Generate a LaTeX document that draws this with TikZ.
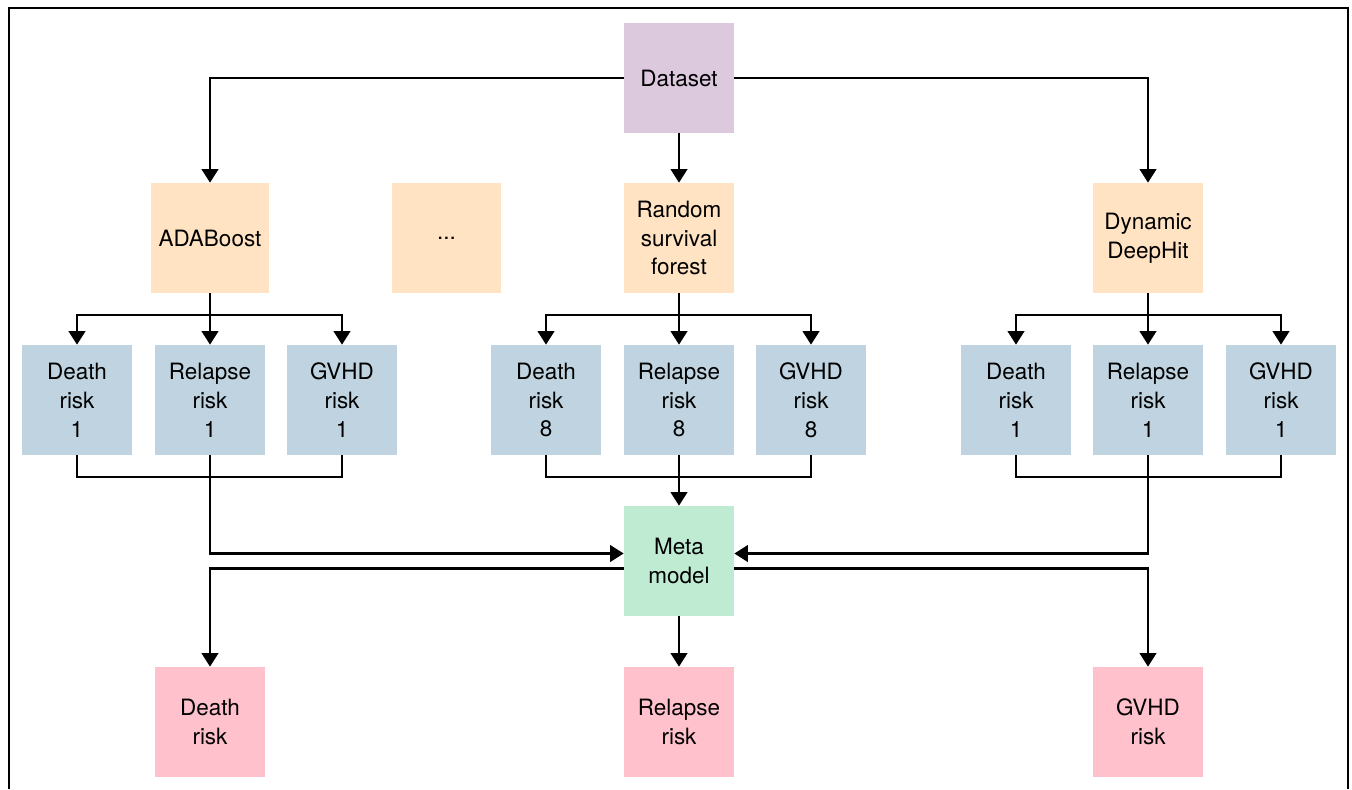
\documentclass[tikz,border=0pt]{standalone}
\usepackage{fontspec}
\setmainfont{TeX Gyre Heros}
\usetikzlibrary{arrows.meta}

\definecolor{datacol}{RGB}{220,201,222}
\definecolor{modelcol}{RGB}{255,227,194}
\definecolor{riskcol}{RGB}{191,212,224}
\definecolor{metacol}{RGB}{191,235,210}
\definecolor{outcol}{RGB}{255,194,205}

\begin{document}
\begin{tikzpicture}[x=0.02cm, y=-0.02cm,
  box/.style={minimum width=2.2cm, minimum height=2.2cm, inner sep=0pt,
    align=center, font=\fontsize{12.8}{16.4}\selectfont},
  conn/.style={line width=1.3pt},
  link/.style={conn, -{Triangle[length=0.27cm, width=0.33cm]}}]

  % Canvas and open frame
  \useasboundingbox (0,0) rectangle (1352,789);
  \draw[line width=1.4pt] (9,789) -- (9,8) -- (1348,8) -- (1348,789);

  % Dataset
  \node[box, fill=datacol] (data) at (679,78) {Dataset};

  % Base models
  \node[box, fill=modelcol, minimum width=2.36cm] (ada) at (210,238) {ADABoost};
  \node[box, fill=modelcol] (dots) at (446.5,238) {...};
  \node[box, fill=modelcol] (rsf) at (679,238) {Random\\survival\\forest};
  \node[box, fill=modelcol] (ddh) at (1148,238) {Dynamic\\DeepHit};

  % Risks of each base model
  \node[box, fill=riskcol] (ad) at (77,400) {Death\\risk\\1};
  \node[box, fill=riskcol] (ar) at (210,400) {Relapse\\risk\\1};
  \node[box, fill=riskcol] (ag) at (342,400) {GVHD\\risk\\1};
  \node[box, fill=riskcol] (rd) at (546,400) {Death\\risk\\8};
  \node[box, fill=riskcol] (rr) at (679,400) {Relapse\\risk\\8};
  \node[box, fill=riskcol] (rg) at (811,400) {GVHD\\risk\\8};
  \node[box, fill=riskcol] (dd) at (1016,400) {Death\\risk\\1};
  \node[box, fill=riskcol] (dr) at (1148,400) {Relapse\\risk\\1};
  \node[box, fill=riskcol] (dg) at (1281,400) {GVHD\\risk\\1};

  % Meta model and final risks
  \node[box, fill=metacol] (meta) at (679,561) {Meta\\model};
  \node[box, fill=outcol] (od) at (210,722) {Death\\risk};
  \node[box, fill=outcol] (or) at (679,722) {Relapse\\risk};
  \node[box, fill=outcol] (og) at (1148,722) {GVHD\\risk};

  % Junction points
  \coordinate (asplit) at (210,315);
  \coordinate (rsplit) at (679,315);
  \coordinate (dsplit) at (1148,315);
  \coordinate (ajoin) at (210,477);
  \coordinate (rjoin) at (679,477);
  \coordinate (djoin) at (1148,477);

  % Dataset to base models
  \draw[link] (data.west) -| (ada.north);
  \draw[link] (data) -- (rsf);
  \draw[link] (data.east) -| (ddh.north);

  % Base models to their risks
  \draw[conn] (ada) -- (asplit);
  \draw[link] (asplit) -| (ad.north);
  \draw[link] (asplit) -- (ar);
  \draw[link] (asplit) -| (ag.north);
  \draw[conn] (rsf) -- (rsplit);
  \draw[link] (rsplit) -| (rd.north);
  \draw[link] (rsplit) -- (rr);
  \draw[link] (rsplit) -| (rg.north);
  \draw[conn] (ddh) -- (dsplit);
  \draw[link] (dsplit) -| (dd.north);
  \draw[link] (dsplit) -- (dr);
  \draw[link] (dsplit) -| (dg.north);

  % Risks gathered into the meta model
  \draw[conn] (ad.south) |- (ajoin) -| (ag.south);
  \draw[link] (ar.south) |- ([yshift=0.15cm]meta.west);
  \draw[conn] (rd.south) |- (rjoin) -| (rg.south);
  \draw[link] (rr) -- (meta);
  \draw[conn] (dd.south) |- (djoin) -| (dg.south);
  \draw[link] (dr.south) |- ([yshift=0.15cm]meta.east);

  % Meta model to final risks
  \draw[link] ([yshift=-0.15cm]meta.west) -| (od.north);
  \draw[link] (meta) -- (or);
  \draw[link] ([yshift=-0.15cm]meta.east) -| (og.north);

\end{tikzpicture}
\end{document}
